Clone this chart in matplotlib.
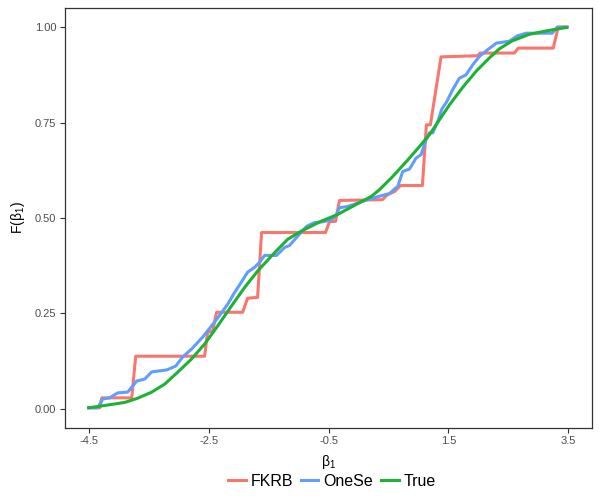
import matplotlib
matplotlib.use("Agg")
import matplotlib.pyplot as plt

plt.rcParams['font.family'] = ['Liberation Sans', 'DejaVu Sans']
plt.rcParams['mathtext.fontset'] = 'custom'
plt.rcParams['mathtext.rm'] = 'Liberation Sans'
plt.rcParams['mathtext.it'] = 'Liberation Sans'

# FKRB estimate (step-like)
fkrb_x = [-4.5, -4.317, -4.283, -3.783, -3.717, -2.567, -2.517, -2.433, -2.367, -1.933,
          -1.85, -1.683, -1.617, -0.55, -0.483, -0.383, -0.317, 0.4, 0.483, 0.6,
          0.7, 1.067, 1.133, 1.2, 1.378, 1.983, 2.033, 2.6, 2.667, 3.25, 3.333, 3.483]
fkrb_y = [0.003, 0.003, 0.029, 0.029, 0.138, 0.138, 0.201, 0.204, 0.253, 0.253,
          0.290, 0.292, 0.462, 0.462, 0.491, 0.491, 0.546, 0.548, 0.561, 0.569,
          0.585, 0.585, 0.744, 0.744, 0.922, 0.925, 0.932, 0.932, 0.945, 0.945, 1.0, 1.0]

# OneSe estimate
onese_x = [-4.5, -4.35, -4.267, -4.15, -4.017, -3.85, -3.783, -3.7, -3.567, -3.45,
           -3.2, -3.05, -2.933, -2.783, -2.6, -2.483, -2.35, -2.183, -2.067, -1.967,
           -1.85, -1.733, -1.65, -1.567, -1.367, -1.233, -1.15, -1.017, -0.867, -0.733,
           -0.6, -0.45, -0.367, -0.317, -0.183, 0.15, 0.35, 0.517, 0.656, 0.739,
           0.85, 0.961, 1.044, 1.128, 1.183, 1.239, 1.322, 1.39, 1.467, 1.572,
           1.683, 1.794, 1.906, 2.017, 2.15, 2.3, 2.517, 2.65,
           2.8, 3.233, 3.317, 3.483]
onese_y = [0.003, 0.003, 0.026, 0.029, 0.042, 0.044, 0.057, 0.073, 0.078, 0.097,
           0.102, 0.112, 0.136, 0.157, 0.188, 0.211, 0.238, 0.274, 0.305, 0.329,
           0.358, 0.371, 0.384, 0.402, 0.402, 0.423, 0.428, 0.452, 0.478, 0.488,
           0.490, 0.495, 0.509, 0.527, 0.530, 0.548, 0.557, 0.564, 0.583, 0.622,
           0.628, 0.657, 0.666, 0.705, 0.723, 0.723, 0.752, 0.785, 0.803, 0.836,
           0.866, 0.875, 0.901, 0.923, 0.940, 0.958, 0.963, 0.977,
           0.984, 0.984, 1.0, 1.0]

# True distribution function
true_x = [-4.5, -4.233, -3.9, -3.683, -3.45, -3.233, -3.017, -2.783, -2.567, -2.35,
          -2.117, -1.9, -1.683, -1.4, -1.183, -0.95, -0.617, -0.35, -0.067, 0.217,
          0.35, 0.567, 0.8, 1.017, 1.183, 1.35, 1.517, 1.733, 1.967, 2.183,
          2.35, 2.567, 2.85, 3.133, 3.467]
true_y = [0.003, 0.009, 0.017, 0.028, 0.044, 0.065, 0.096, 0.131, 0.170, 0.217,
          0.270, 0.318, 0.361, 0.409, 0.444, 0.466, 0.492, 0.509, 0.533, 0.557,
          0.574, 0.608, 0.648, 0.687, 0.718, 0.757, 0.796, 0.841, 0.885, 0.919,
          0.943, 0.964, 0.981, 0.990, 0.999]

labels = ['FKRB', 'OneSe', 'True']
colors = ['#F8766D', '#619CFF', '#1DB233']

fig = plt.figure(figsize=(6, 5), dpi=100)
ax = fig.add_axes([0.108, 0.144, 0.879, 0.84])

ax.plot(fkrb_x, fkrb_y, color=colors[0], lw=2.2, label=labels[0], solid_joinstyle='round')
ax.plot(onese_x, onese_y, color=colors[1], lw=2.2, label=labels[1], solid_joinstyle='round')
ax.plot(true_x, true_y, color=colors[2], lw=2.2, label=labels[2])

ax.set_xlim(-4.9, 3.9)
ax.set_ylim(-0.05, 1.05)
ax.set_xticks([-4.5, -2.5, -0.5, 1.5, 3.5])
ax.set_xticklabels(['-4.5', '-2.5', '-0.5', '1.5', '3.5'])
ax.set_yticks([0, 0.25, 0.5, 0.75, 1.0])
ax.set_yticklabels(['0.00', '0.25', '0.50', '0.75', '1.00'])
ax.tick_params(labelsize=8, labelcolor='#4d4d4d', color='#333333', length=3.5, width=0.8, pad=2.5)
for s in ax.spines.values():
    s.set_color('#333333')
    s.set_linewidth(0.9)

ax.set_xlabel(r'β$_1$', fontsize=10, labelpad=5)
ax.set_ylabel(r'F(β$_1$)', fontsize=10, labelpad=6)

fig.legend(loc='center', bbox_to_anchor=(0.553, 0.038), ncol=3, frameon=False,
           fontsize=11.5, handlelength=1.1, handletextpad=0.3, columnspacing=0.5)

fig.savefig('out.png', dpi=100)
